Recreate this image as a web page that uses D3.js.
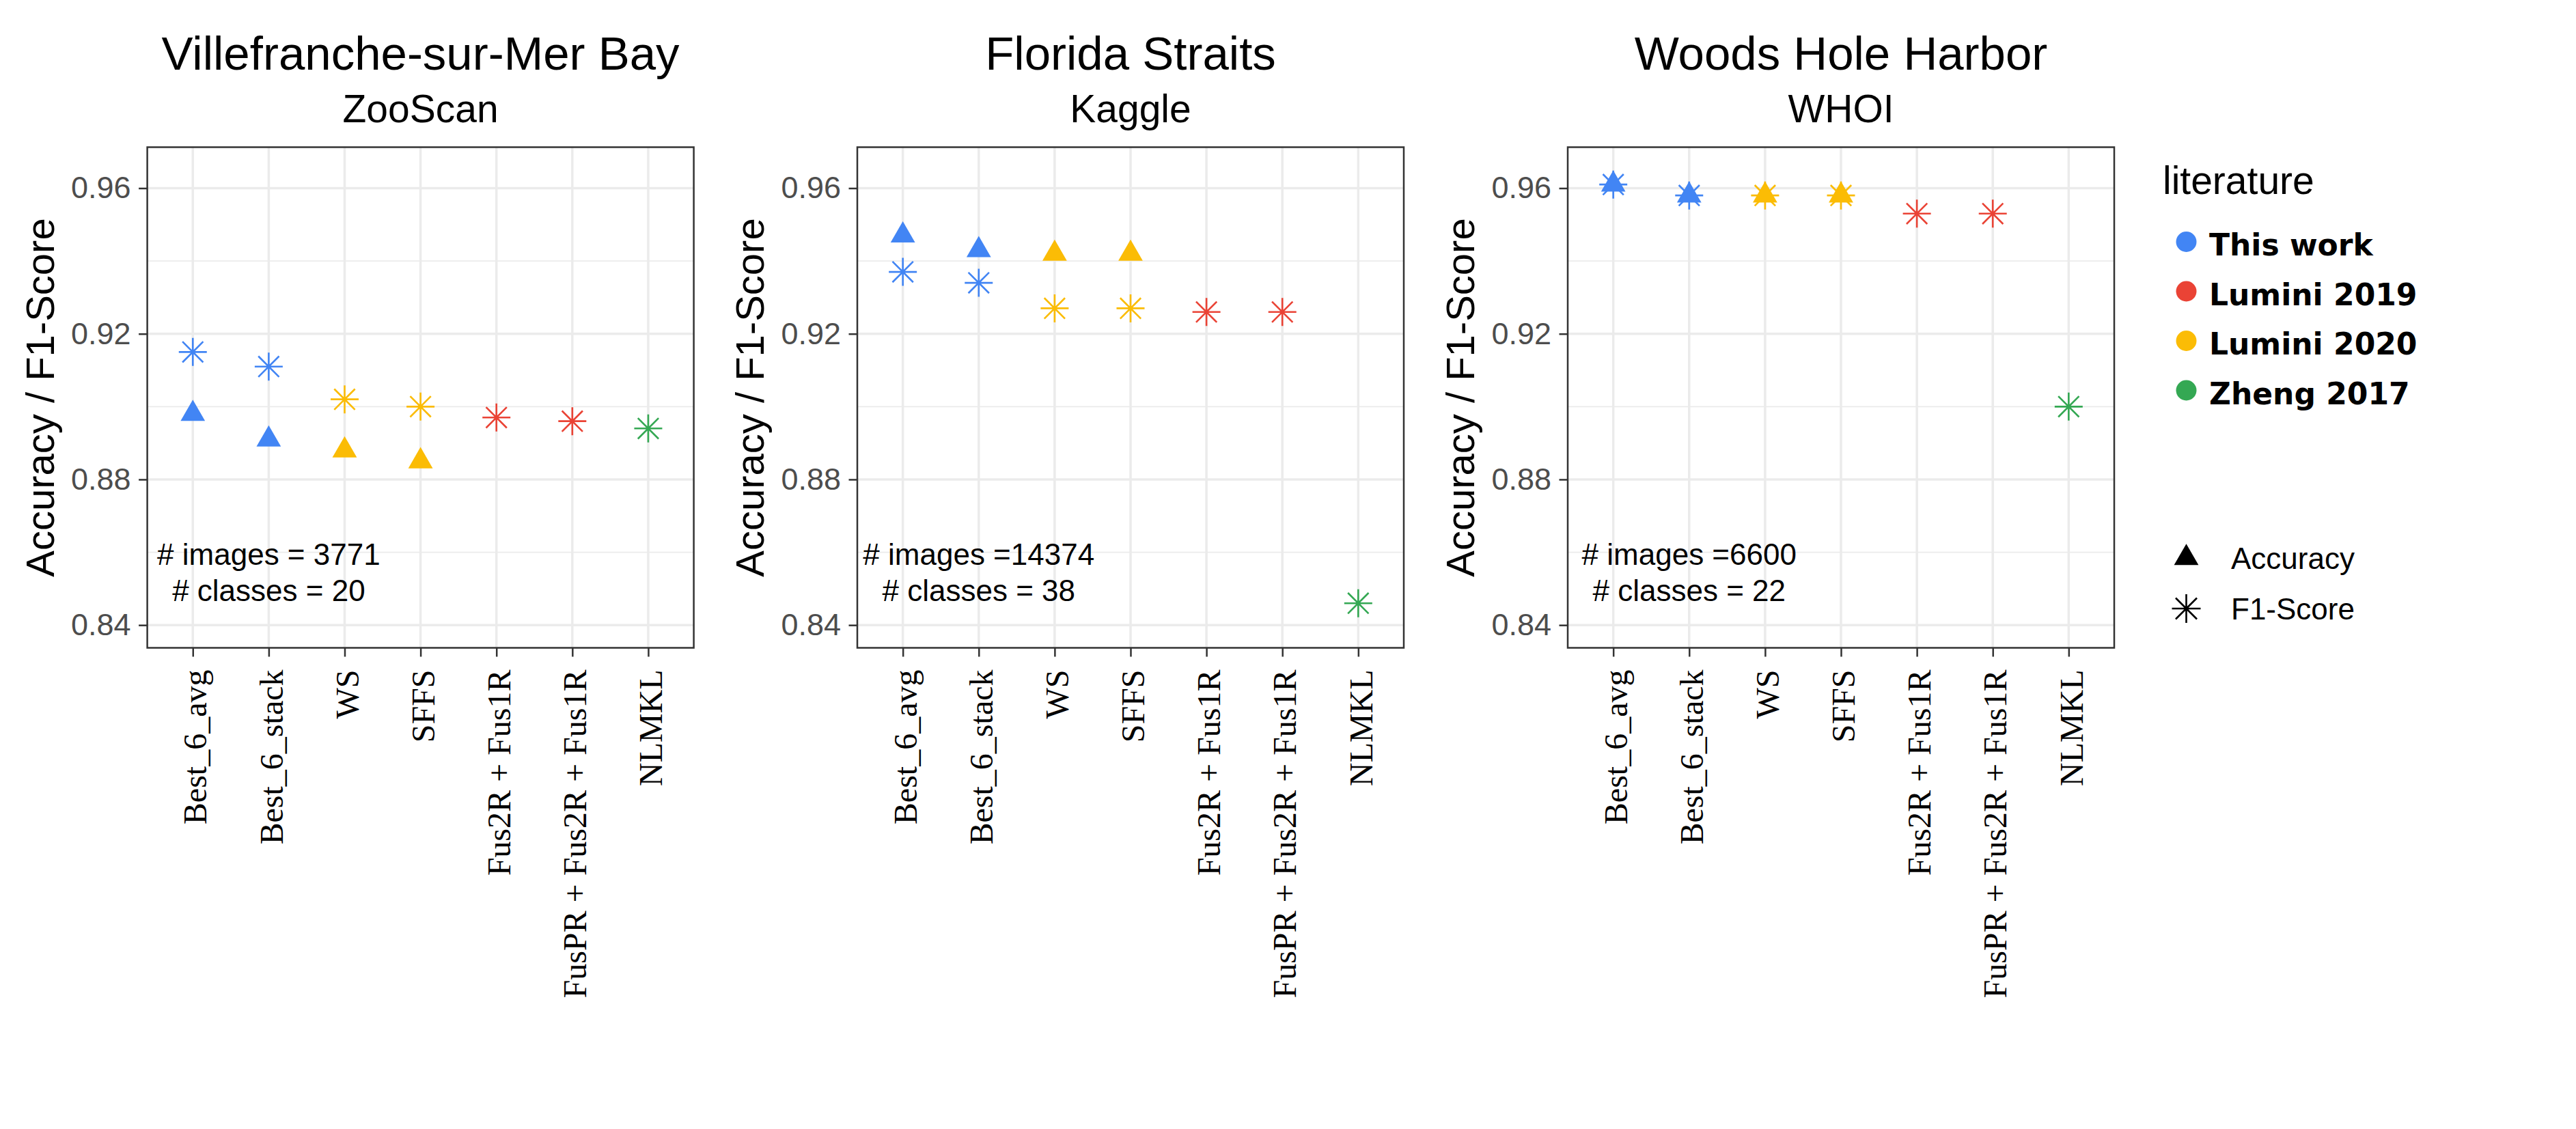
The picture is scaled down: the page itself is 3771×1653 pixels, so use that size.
<!DOCTYPE html>
<html><head><meta charset="utf-8">
<script src="https://cdn.jsdelivr.net/npm/d3@7"></script>
<style>body{margin:0;background:#fff}svg{display:block}</style>
</head><body><svg id="chart" width="3771" height="1653"></svg>
<script>
// ---------- data ----------
const categories = ["Best_6_avg","Best_6_stack","WS","SFFS","Fus2R + Fus1R","FusPR + Fus2R + Fus1R","NLMKL"];
const literatureOf = ["This work","This work","Lumini 2020","Lumini 2020","Lumini 2019","Lumini 2019","Zheng 2017"];
const panelTitles = ["Villefranche-sur-Mer Bay","Florida Straits","Woods Hole Harbor"];
const panelSubtitles = ["ZooScan","Kaggle","WHOI"];
const accuracyZooScan = [0.898,0.891,0.888,0.885,null,null,null];
const f1ZooScan       = [0.915,0.911,0.902,0.900,0.897,0.896,0.894];
const accuracyKaggle  = [0.947,0.943,0.942,0.942,null,null,null];
const f1Kaggle        = [0.937,0.934,0.927,0.927,0.926,0.926,0.846];
const accuracyWHOI    = [0.961,0.958,0.958,0.958,null,null,null];
const f1WHOI          = [0.961,0.958,0.958,0.958,0.953,0.953,0.900];
const imagesText  = ["# images = 3771","# images =14374","# images =6600"];
const classesText = ["# classes = 20","# classes = 38","# classes = 22"];
const yTicks = [0.84,0.88,0.92,0.96];
const yMinorTicks = [0.86,0.90,0.94];
const yLimits = [0.84,0.965];
const legendLabels = ["This work","Lumini 2019","Lumini 2020","Zheng 2017"];
const legendColors = ["#4285F4","#EA4335","#FBBC05","#34A853"];
const shapeLabels = ["Accuracy","F1-Score"];
const yAxisTitle = "Accuracy / F1-Score";
const legendTitle = "literature";

const accuracies = [accuracyZooScan, accuracyKaggle, accuracyWHOI];
const f1s = [f1ZooScan, f1Kaggle, f1WHOI];

// ---------- layout ----------
const svg = d3.select("#chart");
svg.append("rect").attr("width",3771).attr("height",1653).attr("fill","#fff");
const SANS = "'Liberation Sans', Arial, Helvetica, sans-serif";
const SERIF = "'Liberation Serif', 'Times New Roman', serif";
const panelLefts = [215.6, 1255, 2295];
const panelW = 800, panelTop = 215.5, panelBottom = 948.5;
const color = d3.scaleOrdinal().domain(legendLabels).range(legendColors);

const span = yLimits[1]-yLimits[0];
const y = d3.scaleLinear().domain([yLimits[0]-0.05*span, yLimits[1]+0.05*span]).range([panelBottom, panelTop]);

const triPath = d3.symbol().type(d3.symbolTriangle).size(555)();
function asteriskPath(r){
  const d = r*0.74;
  return `M${-r},0H${r}M0,${-r}V${r}M${-d},${-d}L${d},${d}M${-d},${d}L${d},${-d}`;
}
const astR = 20.5;

panelLefts.forEach((left, p) => {
  const right = left + panelW;
  const cx = (left+right)/2;
  const x = d3.scalePoint().domain(categories).range([left, right]).padding(0.6);
  const g = svg.append("g");

  // grid
  g.selectAll(".minor").data(yMinorTicks).join("line")
    .attr("x1",left).attr("x2",right).attr("y1",d=>y(d)).attr("y2",d=>y(d))
    .attr("stroke","#EBEBEB").attr("stroke-width",1.8);
  g.selectAll(".majorH").data(yTicks).join("line")
    .attr("x1",left).attr("x2",right).attr("y1",d=>y(d)).attr("y2",d=>y(d))
    .attr("stroke","#EBEBEB").attr("stroke-width",3.5);
  g.selectAll(".majorV").data(categories).join("line")
    .attr("x1",d=>x(d)).attr("x2",d=>x(d)).attr("y1",panelTop).attr("y2",panelBottom)
    .attr("stroke","#EBEBEB").attr("stroke-width",3.5);

  // points
  const rows = categories.map((c,i)=>({cat:c, lit:literatureOf[i], acc:accuracies[p][i], f1:f1s[p][i]}));
  rows.forEach(r => {
    if (r.f1 != null) {
      g.append("path").attr("d", asteriskPath(astR))
        .attr("transform",`translate(${x(r.cat)},${y(r.f1)})`)
        .attr("stroke", color(r.lit)).attr("stroke-width",2.6).attr("fill","none");
    }
    if (r.acc != null) {
      g.append("path").attr("d", triPath)
        .attr("transform",`translate(${x(r.cat)},${y(r.acc)})`)
        .attr("fill", color(r.lit));
    }
  });

  // annotation
  const ax = x(categories[1]), ay = y(0.855);
  g.append("text").attr("x",ax).attr("y",ay-8.6).attr("text-anchor","middle")
    .attr("font-family",SANS).attr("font-size",44).attr("fill","#000").text(imagesText[p]);
  g.append("text").attr("x",ax).attr("y",ay+44.8).attr("text-anchor","middle")
    .attr("font-family",SANS).attr("font-size",44).attr("fill","#000").text(classesText[p]);

  // border
  g.append("rect").attr("x",left).attr("y",panelTop).attr("width",panelW).attr("height",panelBottom-panelTop)
    .attr("fill","none").attr("stroke","#333").attr("stroke-width",2.5);

  // y axis
  const yAx = g.append("g").attr("transform",`translate(${left},0)`)
    .call(d3.axisLeft(y).tickValues(yTicks).tickFormat(d3.format(".2f")).tickSize(12.5).tickPadding(11.5));
  yAx.select(".domain").remove();
  yAx.selectAll(".tick line").attr("stroke","#333").attr("stroke-width",2.5);
  yAx.selectAll(".tick text").attr("fill","#4D4D4D").attr("font-family",SANS).attr("font-size",45);

  // x axis
  const xAx = g.append("g").attr("transform",`translate(0,${panelBottom})`)
    .call(d3.axisBottom(x).tickSize(13).tickPadding(0));
  xAx.select(".domain").remove();
  xAx.selectAll(".tick line").attr("stroke","#333").attr("stroke-width",2.5);
  xAx.selectAll(".tick text")
    .attr("transform","rotate(-90)")
    .attr("x",-32).attr("y",0).attr("dy","0.41em")
    .attr("text-anchor","end")
    .attr("fill","#000").attr("font-family",SERIF).attr("font-size",48);

  // titles
  g.append("text").attr("x",cx).attr("y",102).attr("text-anchor","middle")
    .attr("font-family",SANS).attr("font-size",69).attr("fill","#000").text(panelTitles[p]);
  g.append("text").attr("x",cx).attr("y",179).attr("text-anchor","middle")
    .attr("font-family",SANS).attr("font-size",57).attr("fill","#000").text(panelSubtitles[p]);

  // y title
  g.append("text").attr("transform",`translate(${left-137},${(panelTop+panelBottom)/2}) rotate(-90)`)
    .attr("text-anchor","middle").attr("font-family",SANS).attr("font-size",58).attr("fill","#000")
    .text(yAxisTitle);
});

// ---------- legend ----------
const lg = svg.append("g");
lg.append("text").attr("x",3166).attr("y",284).attr("font-family",SANS).attr("font-size",57)
  .attr("fill","#000").text(legendTitle);
const legY = d3.scalePoint().domain(legendLabels).range([354, 571.5]);
legendLabels.forEach(l => {
  lg.append("circle").attr("cx",3200.5).attr("cy",legY(l)).attr("r",15).attr("fill",color(l));
  lg.append("text").attr("x",3234).attr("y",legY(l)+20)
    .attr("font-family","'DejaVu Sans', Verdana, sans-serif").attr("font-weight","bold")
    .attr("font-size",44).attr("fill","#000").text(l);
});
const shapeY = d3.scalePoint().domain(shapeLabels).range([817, 891]);
lg.append("path").attr("d",triPath).attr("transform",`translate(3200.5,${shapeY("Accuracy")})`).attr("fill","#000");
lg.append("path").attr("d",asteriskPath(21)).attr("transform",`translate(3200.5,${shapeY("F1-Score")})`)
  .attr("stroke","#000").attr("stroke-width",2.6).attr("fill","none");
shapeLabels.forEach(s => {
  lg.append("text").attr("x",3266).attr("y",shapeY(s)+16).attr("font-family",SANS)
    .attr("font-size",44).attr("fill","#000").text(s);
});
</script></body></html>
